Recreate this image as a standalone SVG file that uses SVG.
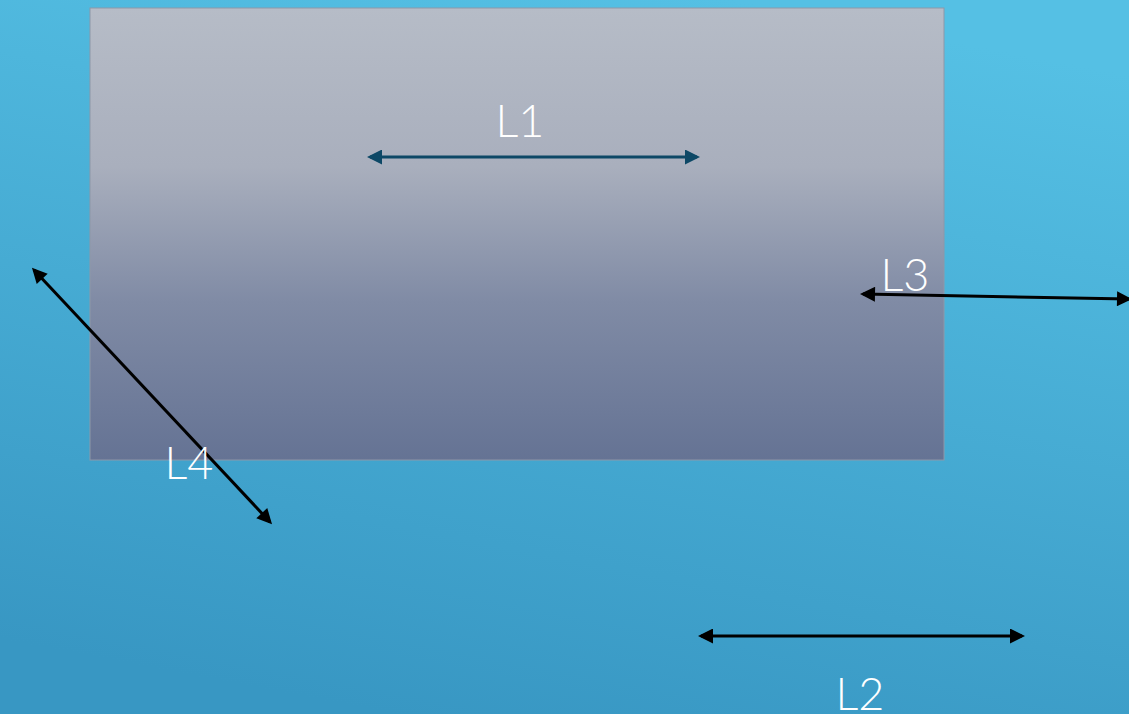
<svg xmlns="http://www.w3.org/2000/svg" width="1129" height="714" viewBox="0 0 1129 714">
<defs>
<linearGradient id="bg" x1="0.65" y1="0" x2="0.35" y2="1">
<stop offset="0" stop-color="#55c0e4"/>
<stop offset="1" stop-color="#3897c3"/>
</linearGradient>
<linearGradient id="box" x1="0" y1="0" x2="0" y2="1">
<stop offset="0" stop-color="#b6bcc7"/>
<stop offset="0.35" stop-color="#a9afbd"/>
<stop offset="0.65" stop-color="#808ba5"/>
<stop offset="1" stop-color="#657394"/>
</linearGradient>
<marker id="ahk" viewBox="0 0 10 10" refX="8" refY="5" markerWidth="5.5" markerHeight="5" orient="auto-start-reverse" markerUnits="strokeWidth">
<path d="M0,0 L10,5 L0,10 Z" fill="#000"/>
</marker>
<marker id="ahb" viewBox="0 0 10 10" refX="8" refY="5" markerWidth="5.5" markerHeight="5" orient="auto-start-reverse" markerUnits="strokeWidth">
<path d="M0,0 L10,5 L0,10 Z" fill="#0d4866"/>
</marker>
</defs>
<style>
.lbl{font-family:"Lato","Liberation Sans",sans-serif;font-weight:300;font-size:45px;fill:#ffffff;text-anchor:middle}
.blk{stroke:#000;stroke-width:3;fill:none;marker-start:url(#ahk);marker-end:url(#ahk)}
</style>
<rect width="1129" height="714" fill="url(#bg)"/>
<g id="box">
<rect x="90" y="8" width="854" height="452" fill="url(#box)" stroke="#8e97a8" stroke-width="1"/>
</g>
<g id="connectors">
<line x1="370" y1="157" x2="697" y2="157" stroke="#0d4866" stroke-width="3" marker-start="url(#ahb)" marker-end="url(#ahb)"/>
<line class="blk" x1="863" y1="294" x2="1129" y2="299"/>
<line class="blk" x1="34" y1="270" x2="270" y2="522"/>
<line class="blk" x1="701" y1="636" x2="1022" y2="636"/>
</g>
<g id="L1"><text class="lbl" x="520" y="137">L1</text></g>
<g id="L3"><text class="lbl" x="905" y="291">L3</text></g>
<g id="L4"><text class="lbl" x="189" y="479">L4</text></g>
<g id="L2"><text class="lbl" x="860" y="710">L2</text></g>
</svg>
